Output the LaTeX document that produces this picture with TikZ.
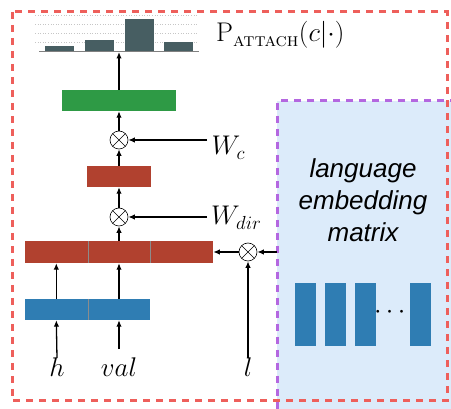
\RequirePackage{fix-cm}
\documentclass[tikz,border=0pt]{standalone}
\usepackage{amsmath}
\usepackage{fontspec}
\setsansfont{Liberation Sans}
\usetikzlibrary{arrows.meta}

\definecolor{framered}{HTML}{EE5F5B}
\definecolor{framepurple}{HTML}{B467E0}
\definecolor{embedfill}{HTML}{DCEBFA}
\definecolor{barblue}{HTML}{2F7DB3}
\definecolor{barred}{HTML}{B1412F}
\definecolor{bargreen}{HTML}{2E9A45}
\definecolor{histgray}{HTML}{475E62}

\tikzset{
  cell/.style={inner sep=0pt, minimum height=21pt, minimum width=62.7pt},
  column/.style={inner sep=0pt, fill=barblue, minimum width=21pt, minimum height=63pt},
  mult/.style={circle, draw, line width=0.6pt, minimum size=18pt, inner sep=0pt,
    path picture={\draw[line width=0.6pt] (path picture bounding box.north west) -- (path picture bounding box.south east)
      (path picture bounding box.north east) -- (path picture bounding box.south west);}},
  flow/.style={line width=1.3pt, -{Latex[length=6.5pt,width=5.5pt]}},
  lbl/.style={inner sep=0pt, font=\fontsize{27}{32}\selectfont},
  frame/.style={line width=3pt, dash pattern=on 7pt off 6pt},
}

\begin{document}
\begin{tikzpicture}[x=1pt, y=-1pt]
    \useasboundingbox (0,0) rectangle (451,409);

    \node (embed) [fill=embedfill, inner sep=0pt, minimum width=180pt, minimum height=312pt, anchor=north west] at (277,101) {};
    \draw [frame, framepurple] (embed.north east) -- (embed.north west) -- (embed.south west);
    \draw [frame, framered] (12,12) rectangle (447,401);

    \node (words) [align=center, inner sep=0pt, font=\sffamily\itshape\fontsize{26}{32}\selectfont] at (363,200.5) {language\\embedding\\matrix};
    \node (col1) [column] at (305.5,314.5) {};
    \node (col2) [column] at (335.5,314.5) {};
    \node (col3) [column] at (365.5,314.5) {};
    \node (dots) [lbl] at (392,313) {$\cdots$};
    \node (col4) [column] at (420.5,314.5) {};

    \foreach \gy in {15,24,33,42}
        \draw [gray!45, dotted, line width=0.6pt] (35,\gy) -- (198,\gy);
    \foreach \bx/\by in {45/46, 85/40, 125/19, 164/42}
        \fill [histgray] (\bx,\by) rectangle (\bx+29,52);
    \draw [gray, line width=1pt] (39,52) -- (199,52);
    \coordinate (histbase) at (119,52);
    \node (prob) [lbl, anchor=base west] at (216,42) {$\mathrm{P}_{\text{\textsc{attach}}}(c|\cdot)$};

    \node (green) [cell, fill=bargreen, minimum width=114pt] at (119,100.5) {};
    \node (mult1) [mult] at (119,140) {};
    \node (Wc) [lbl, inner xsep=4.5pt, anchor=base west] at (207,155) {$W_c$};
    \node (mid) [cell, fill=barred, minimum width=64pt] at (119,176.5) {};
    \node (mult2) [mult] at (119,217) {};
    \node (Wdir) [lbl, inner xsep=4pt, anchor=base west] at (207,225) {$W_{dir}$};

    \node (cell1) [cell, fill=barred, minimum height=22pt] at (56.3,252) {};
    \node (cell2) [cell, fill=barred, minimum height=22pt] at (119,252) {};
    \node (cell3) [cell, fill=barred, minimum height=22pt] at (181.7,252) {};
    \node (mult3) [mult] at (248,252) {};

    \node (blue1) [cell, fill=barblue] at (56.3,309.5) {};
    \node (blue2) [cell, fill=barblue] at (119,309.5) {};

    \node (h) [lbl, anchor=base] at (57,377) {$h$};
    \node (val) [lbl, anchor=base] at (119,377) {$val$};
    \node (lang) [lbl, anchor=base] at (248,377) {$l$};

    \draw [black!45, line width=0.4pt] (cell1.north east) -- (cell1.south east);
    \draw [black!45, line width=0.4pt] (cell2.north east) -- (cell2.south east);
    \draw [black!45, line width=0.4pt] (blue1.north east) -- (blue1.south east);

    \draw [flow] (h.north) -- (blue1.south);
    \draw [flow, shorten <=9pt] (val.north) -- (blue2.south);
    \draw [flow] (blue1.north) -- (cell1.south);
    \draw [flow] (blue2.north) -- (cell2.south);
    \draw [flow] (lang.north) -- (mult3.south);
    \draw [flow] (embed.west |- mult3) -- (mult3.east);
    \draw [flow] (mult3.west) -- (cell3.east);
    \draw [flow] (cell2.north) -- (mult2.south);
    \draw [flow] (Wdir.west |- mult2) -- (mult2.east);
    \draw [flow] (mult2.north) -- (mid.south);
    \draw [flow] (mid.north) -- (mult1.south);
    \draw [flow] (Wc.west |- mult1) -- (mult1.east);
    \draw [flow] (mult1.north) -- (green.south);
    \draw [flow] (green.north) -- (histbase);
\end{tikzpicture}
\end{document}
